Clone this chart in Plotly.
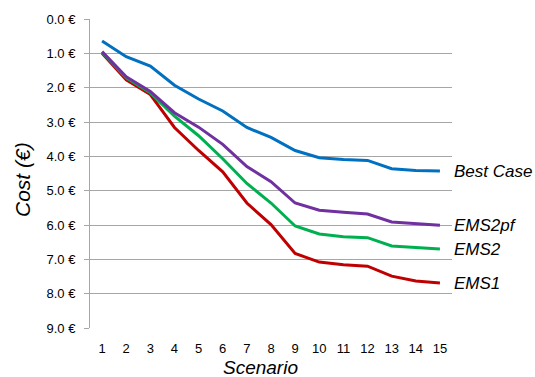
import plotly.graph_objects as go

scenarios = list(range(1, 16))
best_case = [0.64, 1.10, 1.37, 1.93, 2.33, 2.68, 3.16, 3.45, 3.83, 4.04, 4.09, 4.12, 4.36, 4.41, 4.43]
ems2pf = [0.95, 1.68, 2.11, 2.73, 3.15, 3.65, 4.30, 4.74, 5.36, 5.57, 5.63, 5.68, 5.91, 5.97, 6.01]
ems2 = [0.97, 1.71, 2.15, 2.83, 3.40, 4.07, 4.79, 5.36, 6.03, 6.26, 6.34, 6.37, 6.61, 6.66, 6.70]
ems1 = [1.00, 1.77, 2.20, 3.16, 3.83, 4.45, 5.36, 5.99, 6.83, 7.08, 7.16, 7.20, 7.49, 7.63, 7.69]

series = [
    ("Best Case", best_case, "#0070C0"),
    ("EMS2pf", ems2pf, "#7030A0"),
    ("EMS2", ems2, "#00B050"),
    ("EMS1", ems1, "#C00000"),
]
y_ticks = [0, 1, 2, 3, 4, 5, 6, 7, 8, 9]

fig = go.Figure()
for name, vals, col in reversed(series):
    fig.add_trace(go.Scatter(x=scenarios, y=vals, mode="lines", name=name,
                             line=dict(color=col, width=3)))

for name, vals, col in series:
    fig.add_annotation(x=scenarios[-1], y=vals[-1], text="<i>" + name + "</i>", showarrow=False,
                       xanchor="left", yanchor="middle", xshift=12,
                       font=dict(family="Liberation Sans", size=17, color="black"),
                       xref="x", yref="y")

fig.add_annotation(x=-0.188, y=0.482, xref="paper", yref="paper", text="<i>Cost (€)</i>",
                   textangle=-90, showarrow=False, xanchor="center", yanchor="middle",
                   font=dict(family="Liberation Sans", size=21, color="black"))
fig.add_annotation(x=0.47, y=0, xref="paper", yref="paper", text="<i>Scenario</i>",
                   showarrow=False, yanchor="top", xanchor="center", yshift=-27,
                   font=dict(family="Liberation Sans", size=19, color="black"))

fig.update_layout(
    width=535, height=377,
    margin=dict(l=90, r=83, t=15, b=49),
    plot_bgcolor="white", paper_bgcolor="white",
    showlegend=False,
    font=dict(family="Liberation Sans", size=13, color="black"),
)
fig.update_xaxes(range=[0.5, 15.5], tickmode="array", tickvals=scenarios,
                 ticktext=[str(s) for s in scenarios], showgrid=False,
                 showline=False, zeroline=False, ticks="", ticklabelstandoff=11,
                 tickfont=dict(size=13))
fig.update_yaxes(range=[9, 0], tickmode="array", tickvals=y_ticks,
                 ticktext=[f"{v:.1f} €" for v in y_ticks],
                 showgrid=True, gridcolor="#a6a6a6", gridwidth=1,
                 showline=True, linecolor="#a6a6a6", linewidth=1,
                 ticks="outside", ticklen=5, tickcolor="#a6a6a6",
                 ticklabelstandoff=6,
                 zeroline=False, tickfont=dict(size=13))

fig.write_html("out.html")
